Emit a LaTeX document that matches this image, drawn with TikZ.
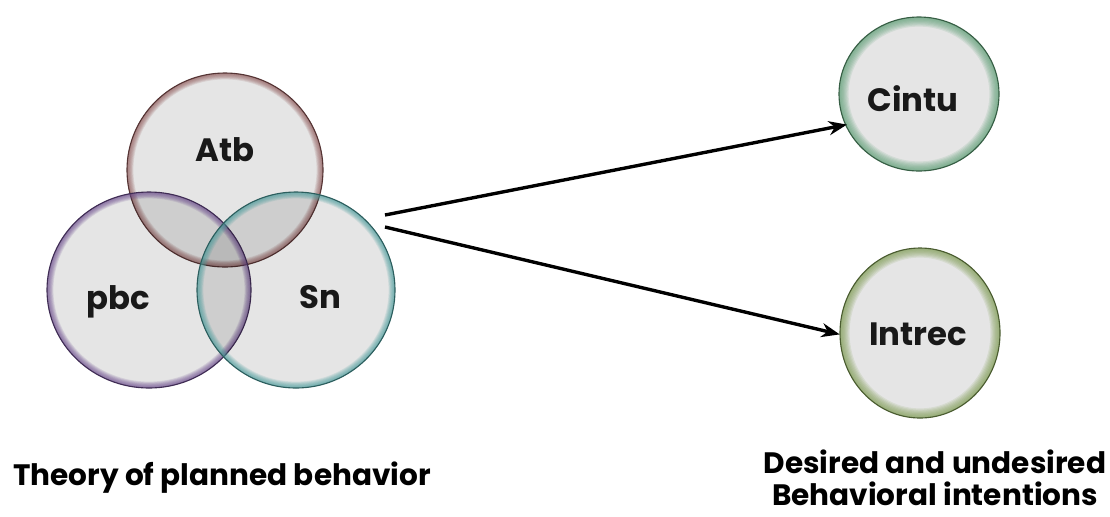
\documentclass[tikz,border=0pt]{standalone}
\usepackage{fontspec}
\setmainfont{Poppins}
\usetikzlibrary{shapes.geometric,arrows.meta}
\definecolor{cAtb}{HTML}{8E5757}
\definecolor{cPbc}{HTML}{6A4A8C}
\definecolor{cSn}{HTML}{4A9C9C}
\definecolor{cCin}{HTML}{5A9C72}
\definecolor{cInt}{HTML}{7C9A50}
\newcommand{\glowell}[5]{%
  \fill[black,opacity=0.10] (#1) ellipse [x radius=#2, y radius=#3];
  \begin{scope}
    \clip (#1) ellipse [x radius=#2, y radius=#3];
    \foreach \k in {1,...,8}{
      \draw[#4,opacity=0.14,line width=\k*#5*0.025cm] (#1) ellipse [x radius=#2, y radius=#3];
    }
  \end{scope}
  \draw[#4!60!black,line width=0.8pt] (#1) ellipse [x radius=#2, y radius=#3];
}
\begin{document}
\begin{tikzpicture}[x=0.025cm,y=-0.025cm,
  lbl/.style={font=\bfseries\fontsize{23pt}{26pt}\selectfont,text=black!90},
  captxt/.style={font=\bfseries\fontsize{21pt}{23pt}\selectfont,text=black,align=center,inner sep=0pt},
  arr/.style={-{Stealth[length=13pt,width=10pt]},line width=2.4pt,black}]
\useasboundingbox (0,0) rectangle (1110,516);
% venn nodes
\node[circle,minimum size=196*0.025cm,inner sep=0] (atb) at (225,170) {};
\node[circle,minimum size=204*0.025cm,inner sep=0] (pbc) at (149,290) {};
\node[circle,minimum size=198*0.025cm,inner sep=0] (sn) at (296,290) {};
\node[circle,minimum size=156*0.025cm,inner sep=0] (cintu) at (919,94) {};
\node[ellipse,minimum width=160*0.025cm,minimum height=170*0.025cm,inner sep=0] (intrec) at (920,333) {};
\glowell{atb.center}{98*0.025cm}{97*0.025cm}{cAtb}{1.6}
\glowell{pbc.center}{102*0.025cm}{98*0.025cm}{cPbc}{1.6}
\glowell{sn.center}{99*0.025cm}{98*0.025cm}{cSn}{1.6}
\glowell{cintu.center}{80*0.025cm}{77*0.025cm}{cCin}{2.4}
\glowell{intrec.center}{80*0.025cm}{85*0.025cm}{cInt}{2.4}
\node[lbl] (tatb) at (225,150) {Atb};
\node[lbl] (tpbc) at (118,302) {pbc};
\node[lbl] (tsn) at (320,297) {Sn};
\node[lbl] (tcin) at (913,99) {Cintu};
\node[lbl] (tint) at (918,334) {Intrec};
% arrows
\coordinate (s1) at (385,215);
\coordinate (s2) at (385,227);
\draw[arr] (s1) -- (cintu.203);
\draw[arr] (s2) -- (intrec.181);
% captions
\node[captxt] (tpb) at (222,478) {Theory of planned behavior};
\node[captxt] (dbi) at (935,478) {Desired and undesired\\Behavioral intentions};
\end{tikzpicture}
\end{document}
